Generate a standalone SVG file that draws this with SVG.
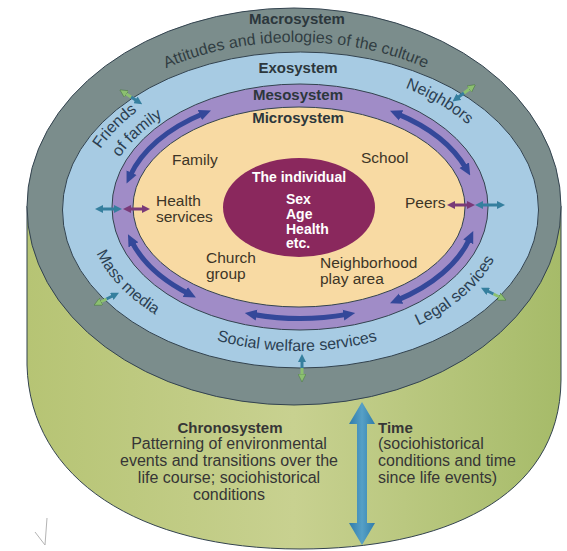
<svg xmlns="http://www.w3.org/2000/svg" width="567" height="551" viewBox="0 0 567 551">
<defs>
<style>
.sys{font:bold 15px 'Liberation Sans',Arial,sans-serif;fill:#2c373c;text-anchor:middle}
.lbl{font:15.5px 'Liberation Sans',Arial,sans-serif;fill:#3d3527}
.ind{font:bold 14px 'Liberation Sans',Arial,sans-serif;fill:#ffffff}
.ring{font:16px 'Liberation Sans',Arial,sans-serif;fill:#2b3f52}
.chr{font:16px 'Liberation Sans',Arial,sans-serif;fill:#363636;text-anchor:middle}
.chl{font:16px 'Liberation Sans',Arial,sans-serif;fill:#363636;text-anchor:start}
.chrb{font:bold 15px 'Liberation Sans',Arial,sans-serif;fill:#363636}
.edge{stroke:#33434f;stroke-width:1}
.meso-arrow{fill:none;stroke:#34489a;stroke-width:5}
.sm{fill:none;stroke-width:3}
</style>
<linearGradient id="green" x1="0" y1="0" x2="1" y2="0">
<stop offset="0" stop-color="#b6c474"/>
<stop offset="0.5" stop-color="#c8d190"/>
<stop offset="1" stop-color="#a6bb69"/>
</linearGradient>
<linearGradient id="timeg" x1="0" y1="0" x2="1" y2="0">
<stop offset="0" stop-color="#2f7cab"/>
<stop offset="0.5" stop-color="#56a0c6"/>
<stop offset="1" stop-color="#2f7cab"/>
</linearGradient>
<marker id="hNavy" viewBox="0 0 12 12" refX="4" refY="6" markerWidth="12" markerHeight="12" markerUnits="userSpaceOnUse" orient="auto-start-reverse"><path d="M0,0.5 L12,6 L0,11.5 z" fill="#34489a"/></marker>
<marker id="hTeal" viewBox="0 0 8 8" refX="3" refY="4" markerWidth="8" markerHeight="8" markerUnits="userSpaceOnUse" orient="auto-start-reverse"><path d="M0,0 L8,4 L0,8 z" fill="#357f9e"/></marker>
<marker id="hPurp" viewBox="0 0 8 8" refX="3" refY="4" markerWidth="8" markerHeight="8" markerUnits="userSpaceOnUse" orient="auto-start-reverse"><path d="M0,0 L8,4 L0,8 z" fill="#7a3a78"/></marker>
<marker id="hGreen" viewBox="0 0 8 8" refX="3" refY="4" markerWidth="8" markerHeight="8" markerUnits="userSpaceOnUse" orient="auto-start-reverse"><path d="M0,0 L8,4 L0,8 z" fill="#8cc070" stroke="#4f7a4a" stroke-width="0.6"/></marker>
<path id="pAtt" d="M51,214 A245,172 0 0 1 541,214"/>
<path id="pTop1" d="M80,212 A220,150 0 0 1 520,212"/>
<path id="pTop2" d="M102,212 A198,132 0 0 1 498,212"/>
<path id="pNb" d="M88,212 A212,143 0 0 1 512,212"/>
<path id="pBot" d="M87,212 A210,139 0 0 0 507,212"/>
</defs>
<rect width="567" height="551" fill="#ffffff"/>

<g id="chronosystem">
<path d="M27,206 L27,365 C30,480 140,549 300,549 C440,549 560,500 561,380 L561,206 Z" fill="url(#green)" class="edge"/>
<text class="chrb" x="230" y="433" text-anchor="middle">Chronosystem</text>
<text class="chr" x="229" y="449">Patterning of environmental</text>
<text class="chr" x="229" y="466">events and transitions over the</text>
<text class="chr" x="229" y="483">life course; sociohistorical</text>
<text class="chr" x="229" y="500">conditions</text>
<text class="chrb" x="378" y="433">Time</text>
<text class="chl" x="378" y="449">(sociohistorical</text>
<text class="chl" x="378" y="466">conditions and time</text>
<text class="chl" x="378" y="483">since life events)</text>
</g>

<g id="macrosystem">
<ellipse cx="294" cy="206.5" rx="267" ry="198.5" fill="#7b8d8c" class="edge"/>
<text class="sys" x="297" y="24">Macrosystem</text>
<text class="ring" style="fill:#313d42"><textPath href="#pAtt" startOffset="50%" text-anchor="middle">Attitudes and ideologies of the culture</textPath></text>
</g>

<g id="exosystem">
<ellipse cx="300.5" cy="210" rx="238" ry="158" fill="#a7cbe3" class="edge"/>
<text class="sys" x="298" y="73">Exosystem</text>
<text class="ring"><textPath href="#pTop1" startOffset="16%" text-anchor="middle">Friends</textPath></text>
<text class="ring"><textPath href="#pTop2" startOffset="16.8%" text-anchor="middle">of family</textPath></text>
<text class="ring"><textPath href="#pNb" startOffset="75.6%" text-anchor="middle">Neighbors</textPath></text>
<text class="ring"><textPath href="#pBot" startOffset="15.5%" text-anchor="middle">Mass media</textPath></text>
<text class="ring"><textPath href="#pBot" startOffset="50%" text-anchor="middle">Social welfare services</textPath></text>
<text class="ring"><textPath href="#pBot" startOffset="81.8%" text-anchor="middle">Legal services</textPath></text>
</g>

<g id="mesosystem">
<ellipse cx="300" cy="207" rx="188" ry="123" fill="#a08cc7" class="edge"/>
<text class="sys" x="298" y="100">Mesosystem</text>
</g>

<g id="microsystem">
<ellipse cx="299" cy="207" rx="166" ry="100" fill="#f8daa3" class="edge"/>
<text class="sys" x="298" y="123">Microsystem</text>
<text class="lbl" x="172" y="165">Family</text>
<text class="lbl" x="361" y="163">School</text>
<text class="lbl" x="156" y="206">Health</text>
<text class="lbl" x="156" y="222">services</text>
<text class="lbl" x="405" y="208">Peers</text>
<text class="lbl" x="206" y="263">Church</text>
<text class="lbl" x="206" y="279">group</text>
<text class="lbl" x="320" y="268">Neighborhood</text>
<text class="lbl" x="320" y="284">play area</text>
</g>

<g id="individual">
<ellipse cx="299" cy="207.5" rx="76" ry="49.5" fill="#8a285d"/>
<text class="ind" x="299" y="182" text-anchor="middle">The individual</text>
<text class="ind" x="286" y="204">Sex</text>
<text class="ind" x="286" y="219">Age</text>
<text class="ind" x="286" y="234">Health</text>
<text class="ind" x="286" y="248">etc.</text>
</g>

<g id="connectors">
<path class="meso-arrow" d="M129.9,176.3 A177,111.5 0 0 1 203.6,113.5" marker-start="url(#hNavy)" marker-end="url(#hNavy)"/>
<path class="meso-arrow" d="M397.4,113.9 A177,111.5 0 0 1 466.2,168.7" marker-start="url(#hNavy)" marker-end="url(#hNavy)"/>
<path class="meso-arrow" d="M131.6,241.3 A177,111.5 0 0 0 188.8,293.8" marker-start="url(#hNavy)" marker-end="url(#hNavy)"/>
<path class="meso-arrow" d="M252.7,314.4 A177,111.5 0 0 0 347.3,314.4" marker-start="url(#hNavy)" marker-end="url(#hNavy)"/>
<path class="meso-arrow" d="M469.9,238.3 A177,111.5 0 0 1 397.4,300.1" marker-start="url(#hNavy)" marker-end="url(#hNavy)"/>

<line class="sm" x1="100" y1="209" x2="117" y2="209" stroke="#357f9e" marker-start="url(#hTeal)" marker-end="url(#hTeal)"/>
<line class="sm" x1="128" y1="209" x2="145" y2="209" stroke="#7a3a78" marker-start="url(#hPurp)" marker-end="url(#hPurp)"/>
<line class="sm" x1="452" y1="205" x2="470" y2="205" stroke="#7a3a78" marker-start="url(#hPurp)" marker-end="url(#hPurp)"/>
<line class="sm" x1="480" y1="205" x2="500" y2="205" stroke="#357f9e" marker-start="url(#hTeal)" marker-end="url(#hTeal)"/>

<line class="sm" x1="131" y1="97" x2="138" y2="101.5" stroke="#357f9e" marker-end="url(#hTeal)"/>
<line class="sm" x1="131" y1="97" x2="124" y2="92.5" stroke="#8cc070" marker-end="url(#hGreen)"/>
<line class="sm" x1="464" y1="93" x2="456.5" y2="98.5" stroke="#357f9e" marker-end="url(#hTeal)"/>
<line class="sm" x1="464" y1="93" x2="471.5" y2="87.5" stroke="#8cc070" marker-end="url(#hGreen)"/>
<line class="sm" x1="106.5" y1="299" x2="114.5" y2="295" stroke="#357f9e" marker-end="url(#hTeal)"/>
<line class="sm" x1="106.5" y1="299" x2="98.5" y2="303" stroke="#8cc070" marker-end="url(#hGreen)"/>
<line class="sm" x1="493.5" y1="294" x2="485.5" y2="290" stroke="#357f9e" marker-end="url(#hTeal)"/>
<line class="sm" x1="493.5" y1="294" x2="501.5" y2="298" stroke="#8cc070" marker-end="url(#hGreen)"/>
<line class="sm" x1="302" y1="368" x2="302" y2="359" stroke="#357f9e" marker-end="url(#hTeal)"/>
<line class="sm" x1="302" y1="368" x2="302" y2="377" stroke="#8cc070" marker-end="url(#hGreen)"/>

<polygon id="time-arrow" points="362,402 375,424 367,424 367,523 375,523 362,545 349,523 357,523 357,424 349,424" fill="url(#timeg)"/>
</g>

<polyline points="35,532 45,545 47,518" fill="none" stroke="#b4b4b4" stroke-width="1"/>
</svg>
